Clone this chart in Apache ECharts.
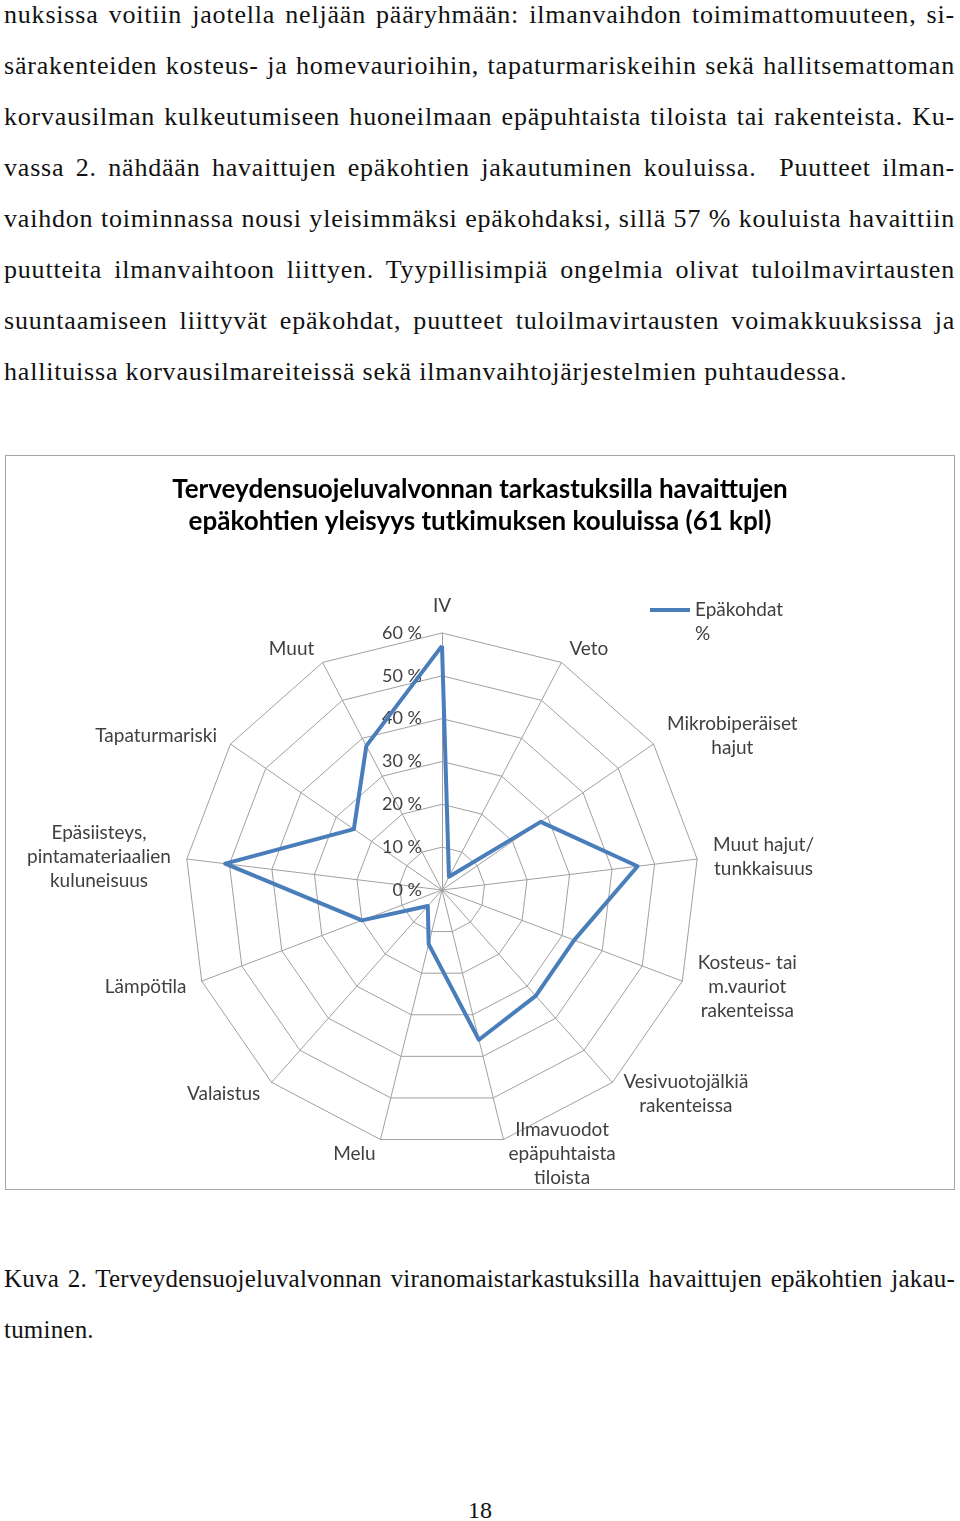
<!DOCTYPE html>
<html><head><meta charset="utf-8">
<script src="https://cdn.jsdelivr.net/npm/echarts@6/dist/echarts.min.js"></script>
<style>
html,body{margin:0;padding:0;background:#fff;}
body{width:960px;height:1521px;position:relative;overflow:hidden;font-family:"Liberation Serif",serif;color:#111;}
.ln{position:absolute;left:4px;width:951px;height:51px;line-height:51px;font-size:26px;letter-spacing:0.8px;white-space:nowrap;text-align:justify;text-align-last:justify;}
.ln.last{text-align-last:left;}
.ln.cap{letter-spacing:0.2px;font-size:25px;}
#chart{position:absolute;left:5px;top:455px;width:950px;height:735px;border:1.5px solid #a6a6a6;box-sizing:border-box;}
#pg{position:absolute;left:0;width:960px;top:1485px;height:51px;line-height:51px;text-align:center;font-size:24px;}
</style></head><body>
<div class="ln" style="top:-11px">nuksissa voitiin jaotella neljään pääryhmään: ilmanvaihdon toimimattomuuteen, si-</div>
<div class="ln" style="top:40px">särakenteiden kosteus- ja homevaurioihin, tapaturmariskeihin sekä hallitsemattoman</div>
<div class="ln" style="top:91px">korvausilman kulkeutumiseen huoneilmaan epäpuhtaista tiloista tai rakenteista. Ku-</div>
<div class="ln" style="top:142px">vassa 2. nähdään havaittujen epäkohtien jakautuminen kouluissa.&nbsp; Puutteet ilman-</div>
<div class="ln" style="top:193px">vaihdon toiminnassa nousi yleisimmäksi epäkohdaksi, sillä 57 % kouluista havaittiin</div>
<div class="ln" style="top:244px">puutteita ilmanvaihtoon liittyen. Tyypillisimpiä ongelmia olivat tuloilmavirtausten</div>
<div class="ln" style="top:295px">suuntaamiseen liittyvät epäkohdat, puutteet tuloilmavirtausten voimakkuuksissa ja</div>
<div class="ln last" style="top:346px">hallituissa korvausilmareiteissä sekä ilmanvaihtojärjestelmien puhtaudessa.</div>
<div id="chart"></div>
<div class="ln cap" style="top:1253px">Kuva 2. Terveydensuojeluvalvonnan viranomaistarkastuksilla havaittujen epäkohtien jakau-</div>
<div class="ln cap last" style="top:1304px">tuminen.</div>
<div id="pg">18</div>
<script>
const categories = ['IV','Veto','Mikrobiperäiset\nhajut','Muut hajut/\ntunkkaisuus','Kosteus- tai\nm.vauriot\nrakenteissa','Vesivuotojälkiä\nrakenteissa','Ilmavuodot\nepäpuhtaista\ntiloista','Melu','Valaistus','Lämpötila','Epäsiisteys,\npintamateriaalien\nkuluneisuus','Tapaturmariski','Muut'];
const values = [57, 3.5, 28, 46, 33, 33, 36, 13, 5, 20, 51, 25, 38];
const seriesName = 'Epäkohdat %';
const axisMax = 60;
const tickStep = 10;

const FONT = 'Lato';
const LABEL_SIZE = 19;
const TICK_SIZE = 18;
const n = categories.length;
// ECharts radar runs counter-clockwise; reorder so the chart reads clockwise
const order = [0];
for (let i = n - 1; i >= 1; i--) order.push(i);

const cv = document.createElement('canvas').getContext('2d');
cv.font = LABEL_SIZE + 'px ' + FONT;
const rich = {};
const nameIndex = {};
categories.forEach((c, i) => {
  const w = Math.max(...c.split('\n').map(s => cv.measureText(s).width));
  rich['n' + i] = {width: Math.ceil(w) + 2, align: 'center', color: '#404040', fontSize: LABEL_SIZE, fontFamily: FONT, lineHeight: 24};
  nameIndex[c] = i;
});

const chart = echarts.init(document.getElementById('chart'));
chart.setOption({
  animation: false,
  title: {
    text: 'Terveydensuojeluvalvonnan tarkastuksilla havaittujen\nepäkohtien yleisyys tutkimuksen kouluissa (61 kpl)',
    left: 'center', top: 13,
    textStyle: {fontFamily: FONT, fontSize: 26, fontWeight: 'bold', color: '#000', lineHeight: 32}
  },
  legend: {
    data: [seriesName], left: 639, top: 113,
    icon: 'rect', itemWidth: 40, itemHeight: 4,
    itemStyle: {color: '#4a7ebb'},
    formatter: () => ' \nEpäkohdat\n%',
    textStyle: {fontFamily: FONT, fontSize: LABEL_SIZE, color: '#404040', lineHeight: 24}
  },
  polar: {center: [436, 434], radius: 257},
  angleAxis: {show: false, startAngle: 90, min: 0, max: 360},
  radiusAxis: {
    min: 0, max: axisMax, interval: tickStep,
    axisLine: {show: false}, axisTick: {show: false}, splitLine: {show: false},
    axisLabel: {formatter: '{value} %', color: '#404040', fontSize: TICK_SIZE, fontFamily: FONT, margin: 20}
  },
  radar: {
    center: [436, 434], radius: 257, startAngle: 90, splitNumber: axisMax / tickStep, shape: 'polygon',
    indicator: order.map(i => ({name: categories[i], min: 0, max: axisMax})),
    nameGap: 15,
    axisName: {
      color: '#404040', fontSize: LABEL_SIZE, fontFamily: FONT, lineHeight: 24,
      formatter: (name) => name.split('\n').map(s => '{n' + nameIndex[name] + '|' + s + '}').join('\n'),
      rich: rich
    },
    splitLine: {lineStyle: {color: '#a0a0a0', width: 1}},
    splitArea: {show: false},
    axisLine: {lineStyle: {color: '#a0a0a0', width: 1}}
  },
  series: [{
    type: 'radar', name: seriesName, symbol: 'none',
    lineStyle: {color: '#4a7ebb', width: 4},
    itemStyle: {color: '#4a7ebb'},
    data: [{name: seriesName, value: order.map(i => values[i])}]
  }]
});
</script>
</body></html>
